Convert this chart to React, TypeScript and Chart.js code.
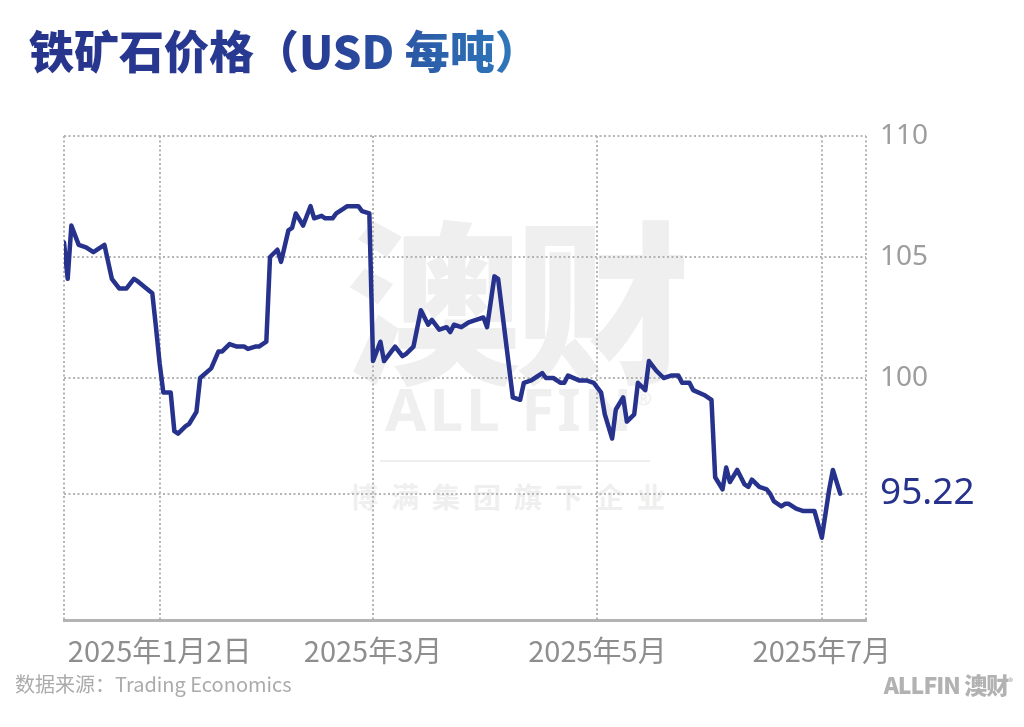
import React, { useEffect, useRef } from "react";
import { Chart, registerables } from "chart.js";

Chart.register(...registerables);

// ---- data ----
const DATES: string[] = [
  "2024-12-07", "2024-12-08", "2024-12-09", "2024-12-11", "2024-12-13", "2024-12-15", "2024-12-18",
  "2024-12-20", "2024-12-22", "2024-12-24", "2024-12-26", "2024-12-27", "2024-12-31",
  "2025-01-01", "2025-01-02", "2025-01-03", "2025-01-05", "2025-01-06", "2025-01-07", "2025-01-09",
  "2025-01-10", "2025-01-12", "2025-01-13", "2025-01-16", "2025-01-18", "2025-01-19", "2025-01-21",
  "2025-01-23", "2025-01-25", "2025-01-26", "2025-01-28", "2025-01-29", "2025-01-31",
  "2025-02-01", "2025-02-03", "2025-02-04", "2025-02-06", "2025-02-07", "2025-02-08", "2025-02-10",
  "2025-02-12", "2025-02-13", "2025-02-15", "2025-02-16", "2025-02-18", "2025-02-19", "2025-02-21",
  "2025-02-22", "2025-02-24", "2025-02-25", "2025-02-26", "2025-02-28",
  "2025-03-01", "2025-03-03", "2025-03-04", "2025-03-06", "2025-03-07", "2025-03-09", "2025-03-10",
  "2025-03-12", "2025-03-14", "2025-03-16", "2025-03-17", "2025-03-19", "2025-03-21", "2025-03-22",
  "2025-03-23", "2025-03-25", "2025-03-27", "2025-03-29", "2025-03-31",
  "2025-04-01", "2025-04-03", "2025-04-04", "2025-04-08", "2025-04-10", "2025-04-11", "2025-04-13",
  "2025-04-14", "2025-04-16", "2025-04-17", "2025-04-19", "2025-04-21", "2025-04-22", "2025-04-23",
  "2025-04-26", "2025-04-28", "2025-04-30",
  "2025-05-02", "2025-05-03", "2025-05-05", "2025-05-06", "2025-05-08", "2025-05-09", "2025-05-11",
  "2025-05-12", "2025-05-14", "2025-05-15", "2025-05-17", "2025-05-19", "2025-05-21", "2025-05-23",
  "2025-05-24", "2025-05-26", "2025-05-27", "2025-05-30",
  "2025-06-01", "2025-06-02", "2025-06-04", "2025-06-05", "2025-06-06", "2025-06-08", "2025-06-10",
  "2025-06-11", "2025-06-12", "2025-06-14", "2025-06-16", "2025-06-17", "2025-06-18", "2025-06-20",
  "2025-06-21", "2025-06-22", "2025-06-24", "2025-06-26", "2025-06-29",
  "2025-07-01", "2025-07-03", "2025-07-04", "2025-07-06",
];

const PRICES: number[] = [
  105.6, 104.1, 106.3, 105.5, 105.4, 105.2, 105.5,
  104.1, 103.7, 103.7, 104.1, 104.0, 103.5,
  102.1, 100.6, 99.4, 99.4, 97.8, 97.7, 98.0,
  98.1, 98.6, 100.0, 100.4, 101.1, 101.1, 101.4,
  101.3, 101.3, 101.2, 101.3, 101.3, 101.5,
  105.0, 105.3, 104.8, 106.1, 106.2, 106.8, 106.3,
  107.1, 106.6, 106.7, 106.6, 106.6, 106.8, 107.0,
  107.1, 107.1, 107.1, 106.9, 106.8,
  100.7, 101.5, 100.7, 101.1, 101.3, 100.9, 101.0,
  101.3, 102.8, 102.2, 102.4, 102.0, 102.1, 101.9,
  102.2, 102.1, 102.3, 102.4, 102.5,
  102.1, 104.2, 104.1, 99.2, 99.1, 99.8, 99.9,
  100.0, 100.2, 100.0, 100.0, 99.8, 99.8, 100.1,
  99.9, 99.9, 99.8,
  99.4, 98.5, 97.5, 98.7, 99.2, 98.2, 98.5,
  99.8, 99.5, 100.7, 100.3, 100.0, 100.1, 100.1,
  99.8, 99.8, 99.5, 99.3,
  99.1, 95.9, 95.4, 96.3, 95.7, 96.2, 95.6,
  95.5, 95.8, 95.5, 95.4, 95.2, 94.9, 94.7,
  94.8, 94.8, 94.6, 94.5, 94.5,
  93.4, 95.4, 96.2, 95.22,
];

const X_TICK_DATES: string[] = ["2025-01-02", "2025-03-01", "2025-05-01", "2025-07-01"];
const X_TICK_LABELS: string[] = ["2025年1月2日", "2025年3月", "2025年5月", "2025年7月"];
const Y_TICKS: number[] = [95.22, 100, 105, 110];
const AXIS_START = "2024-12-07";
const AXIS_END = "2025-07-13";
const Y_MIN = 90;
const Y_MAX = 110;

const TITLE = "铁矿石价格（USD 每吨）";
const SOURCE = "数据来源：Trading Economics";

// ---- style ----
const LINE_COLOR = "#26328c";
const GRID_COLOR = "#b4b4b4";
const CJK = '"Noto Sans CJK SC", "Noto Sans", sans-serif';
const LATIN = '"Noto Sans", "Noto Sans CJK SC", sans-serif';

const dayOf = (s: string) => {
  const [y, m, d] = s.split("-").map(Number);
  return (Date.UTC(y, m - 1, d) - Date.UTC(2025, 0, 1)) / 864e5;
};

const LAST = PRICES[PRICES.length - 1];

export default function App() {
  const ref = useRef<HTMLCanvasElement | null>(null);

  useEffect(() => {
    if (!ref.current) return;
    const xMin = dayOf(AXIS_START);
    const xMax = dayOf(AXIS_END);
    const tickDays = X_TICK_DATES.map(dayOf);
    const points = DATES.map((d, i) => ({ x: dayOf(d), y: PRICES[i] }));

    const chart = new Chart(ref.current, {
      type: "line",
      data: {
        datasets: [
          {
            data: points,
            borderColor: LINE_COLOR,
            borderWidth: 4.5,
            pointRadius: 0,
            tension: 0,
            fill: false,
            borderJoinStyle: "round",
            borderCapStyle: "round",
          },
        ],
      },
      options: {
        animation: false,
        responsive: false,
        maintainAspectRatio: false,
        devicePixelRatio: 1,
        layout: { padding: { left: 64, top: 136, right: 0, bottom: 0 } },
        plugins: {
          legend: { display: false },
          tooltip: { enabled: false },
          title: { display: false },
        },
        scales: {
          x: {
            type: "linear",
            min: xMin,
            max: xMax,
            afterBuildTicks: (s: any) => {
              s.ticks = [xMin, ...tickDays, xMax].map((v) => ({ value: v }));
            },
            afterFit: (s: any) => {
              s.height = 107;
            },
            grid: { color: GRID_COLOR, lineWidth: 2, drawTicks: false },
            border: { display: true, color: "#b3b3b3", width: 3, dash: [2, 2.5] },
            ticks: {
              autoSkip: false,
              maxRotation: 0,
              minRotation: 0,
              padding: 14,
              color: "#8e8e8e",
              font: { family: CJK, size: 29 },
              callback: (v: any) => {
                const i = tickDays.indexOf(Number(v));
                return i >= 0 ? X_TICK_LABELS[i] : "";
              },
            },
          },
          y: {
            position: "right",
            min: Y_MIN,
            max: Y_MAX,
            afterBuildTicks: (s: any) => {
              s.ticks = Y_TICKS.map((v) => ({ value: v }));
            },
            afterFit: (s: any) => {
              s.width = 158;
            },
            grid: { color: GRID_COLOR, lineWidth: 2, drawTicks: false },
            border: { display: false, dash: [2, 2.5] },
            ticks: {
              padding: 14,
              color: (c: any) => (c.tick && c.tick.value === LAST ? LINE_COLOR : "#9d9d9d"),
              font: (c: any) =>
                c.tick && c.tick.value === LAST
                  ? { family: LATIN, size: 37 }
                  : { family: LATIN, size: 28 },
              callback: (v: any) => String(v),
            },
          },
        },
      },
    });
    return () => chart.destroy();
  }, []);

  const wm = "#efefef";
  return (
    <div
      style={{
        position: "absolute",
        left: 0,
        top: 0,
        width: 1024,
        height: 727,
        background: "#ffffff",
        overflow: "hidden",
        fontFamily: CJK,
      }}
    >
      {/* watermark */}
      <div
        style={{
          position: "absolute",
          left: 345,
          top: 174,
          width: 340,
          textAlign: "center",
          fontSize: 175,
          fontWeight: 900,
          color: wm,
          lineHeight: "240px",
          letterSpacing: -6,
          whiteSpace: "nowrap",
        }}
      >
        澳财
      </div>
      <div
        style={{
          position: "absolute",
          left: 360,
          top: 370,
          width: 320,
          textAlign: "center",
          fontFamily: LATIN,
          fontSize: 60,
          fontWeight: 700,
          color: wm,
          lineHeight: "76px",
          letterSpacing: 3,
          whiteSpace: "nowrap",
        }}
      >
        ALL FIN
        <span style={{ fontSize: 20, position: "relative", top: -26 }}>®</span>
      </div>
      <div
        style={{
          position: "absolute",
          left: 380,
          top: 460,
          width: 270,
          height: 2,
          background: wm,
        }}
      />
      <div
        style={{
          position: "absolute",
          left: 350,
          top: 476,
          width: 330,
          fontSize: 28,
          fontWeight: 700,
          color: wm,
          lineHeight: "40px",
          letterSpacing: 13,
          whiteSpace: "nowrap",
        }}
      >
        博满集团旗下企业
      </div>

      <canvas
        ref={ref}
        width={1024}
        height={727}
        style={{ position: "absolute", left: 0, top: 0, width: 1024, height: 727 }}
      />

      {/* title */}
      <div
        style={{
          position: "absolute",
          left: 29,
          top: 18,
          fontSize: 45,
          fontWeight: 900,
          lineHeight: "64px",
          whiteSpace: "nowrap",
          backgroundImage: "linear-gradient(90deg, #27348c 0%, #283b93 55%, #2f7fbf 100%)",
          WebkitBackgroundClip: "text",
          backgroundClip: "text",
          color: "transparent",
        }}
      >
        {TITLE}
      </div>

      {/* source */}
      <div
        style={{
          position: "absolute",
          left: 15,
          top: 670,
          fontSize: 20,
          color: "#ababab",
          lineHeight: "28px",
          whiteSpace: "nowrap",
        }}
      >
        {SOURCE}
      </div>

      {/* logo */}
      <div
        style={{
          position: "absolute",
          right: 12,
          top: 669,
          fontSize: 23,
          fontWeight: 900,
          color: "#b2b2b2",
          lineHeight: "30px",
          whiteSpace: "nowrap",
          letterSpacing: -1,
        }}
      >
        ALLFIN 澳财
        <span style={{ fontSize: 9, position: "relative", top: -9 }}>®</span>
      </div>
    </div>
  );
}
